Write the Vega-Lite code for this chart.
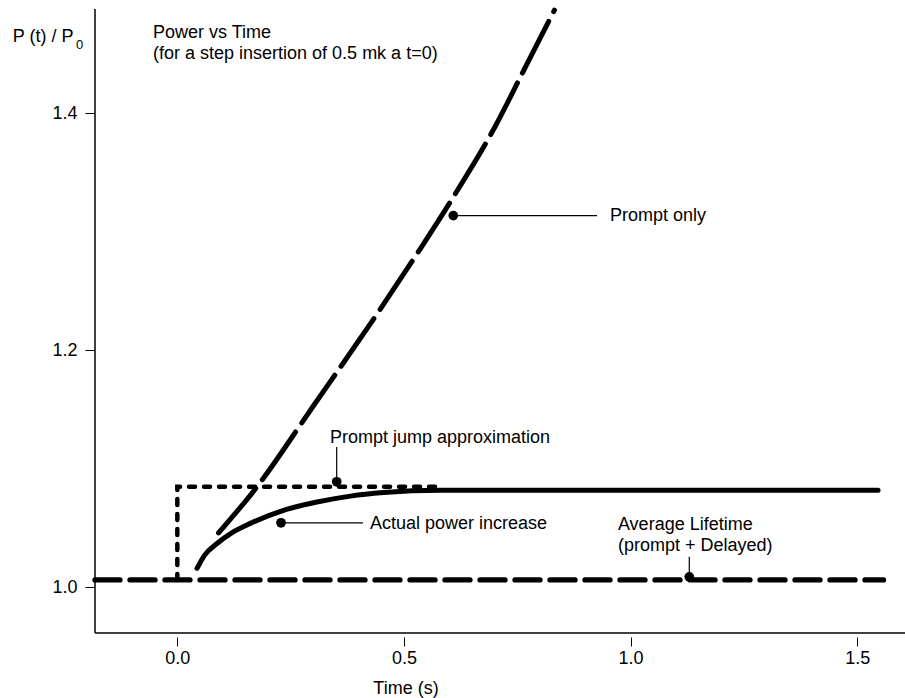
{
  "$schema": "https://vega.github.io/schema/vega-lite/v6.json",
  "width": 810,
  "height": 624,
  "autosize": {"type": "none"},
  "padding": {"left": 95, "top": 9, "right": 0, "bottom": 65},
  "background": "white",
  "config": {"view": {"stroke": null}, "font": "Liberation Sans"},
  "datasets": {
    "prompt": [
      {"t": 0.091, "p": 1.046}, {"t": 0.172, "p": 1.083}, {"t": 0.30, "p": 1.153},
      {"t": 0.45, "p": 1.236}, {"t": 0.54, "p": 1.288}, {"t": 0.61, "p": 1.330},
      {"t": 0.70, "p": 1.388}, {"t": 0.764, "p": 1.436}, {"t": 0.832, "p": 1.487}
    ],
    "actual": [
      {"t": 0.0435, "p": 1.016}, {"t": 0.06, "p": 1.027}, {"t": 0.0876, "p": 1.037},
      {"t": 0.12, "p": 1.046}, {"t": 0.161, "p": 1.054}, {"t": 0.2345, "p": 1.065},
      {"t": 0.308, "p": 1.072}, {"t": 0.382, "p": 1.077}, {"t": 0.455, "p": 1.080},
      {"t": 0.58, "p": 1.082}, {"t": 1.546, "p": 1.082}
    ],
    "jump": [
      {"t": 0, "p": 1.0063, "o": 1}, {"t": 0, "p": 1.085, "o": 2}, {"t": 0.58, "p": 1.085, "o": 3}
    ],
    "avg": [
      {"t": -0.1816, "p": 1.0063}, {"t": 1.558, "p": 1.0063}
    ],
    "dots": [
      {"t": 0.6089, "p": 1.3137}, {"t": 0.2288, "p": 1.0545},
      {"t": 0.3516, "p": 1.0891}, {"t": 1.1295, "p": 1.0089}
    ],
    "leaders": [
      {"t": 0.6089, "p": 1.3137, "t2": 0.926, "p2": 1.3137},
      {"t": 0.2288, "p": 1.0545, "t2": 0.4096, "p2": 1.0545},
      {"t": 0.3516, "p": 1.0891, "t2": 0.3516, "p2": 1.1184},
      {"t": 1.1295, "p": 1.0089, "t2": 1.1295, "p2": 1.0258}
    ],
    "labels": [
      {"t": -0.0536, "p": 1.4638, "text": "Power vs Time"},
      {"t": -0.0536, "p": 1.4462, "text": "(for a step insertion of 0.5 mk a t=0)"},
      {"t": 0.9545, "p": 1.3091, "text": "Prompt only"},
      {"t": 0.4251, "p": 1.0496, "text": "Actual power increase"},
      {"t": 0.3369, "p": 1.1220, "text": "Prompt jump approximation"},
      {"t": 0.9721, "p": 1.0488, "text": "Average Lifetime"},
      {"t": 0.9721, "p": 1.0306, "text": "(prompt + Delayed)"}
    ],
    "sub": [
      {"t": -0.2235, "p": 1.4543, "text": "0"}
    ],
    "one": [{"k": 0}]
  },
  "layer": [
    {
      "data": {"name": "avg"},
      "mark": {"type": "line", "color": "black", "strokeWidth": 5.3, "strokeDash": [25, 10], "strokeCap": "round"},
      "encoding": {
        "x": {
          "field": "t", "type": "quantitative",
          "scale": {"domain": [-0.1816, 1.6054], "nice": false, "zero": false},
          "axis": {
            "values": [0, 0.5, 1, 1.5], "format": ".1f", "domain": false, "grid": false,
            "offset": 4, "tickSize": 9, "tickColor": "black", "tickWidth": 1,
            "labelFont": "Liberation Sans", "labelFontSize": 18, "labelColor": "black", "labelPadding": 3,
            "title": "Time (s)", "titleFont": "Liberation Sans", "titleFontSize": 18,
            "titleFontWeight": "normal", "titleColor": "black",
            "titleX": 310.5, "titleY": 56, "titleBaseline": "alphabetic", "titleAlign": "center"
          }
        },
        "y": {
          "field": "p", "type": "quantitative",
          "scale": {"domain": [0.9615, 1.488], "nice": false, "zero": false},
          "axis": {
            "values": [1.0, 1.2, 1.4], "format": ".1f", "domain": false, "grid": false,
            "offset": 1, "tickSize": 9, "tickColor": "black", "tickWidth": 1,
            "labelFont": "Liberation Sans", "labelFontSize": 18, "labelColor": "black", "labelPadding": 8,
            "title": "P (t) / P", "titleFont": "Liberation Sans", "titleFontSize": 18,
            "titleFontWeight": "normal", "titleColor": "black", "titleAngle": 0,
            "titleAlign": "left", "titleBaseline": "alphabetic", "titleX": -81.7, "titleY": 32
          }
        }
      }
    },
    {
      "data": {"name": "one"},
      "mark": {"type": "rule", "color": "black", "strokeWidth": 1.5},
      "encoding": {"x": {"datum": -0.1816, "type": "quantitative"}}
    },
    {
      "data": {"name": "one"},
      "mark": {"type": "rule", "color": "black", "strokeWidth": 1.5},
      "encoding": {"y": {"datum": 0.9615, "type": "quantitative"}}
    },
    {
      "data": {"name": "jump"},
      "mark": {"type": "line", "color": "black", "strokeWidth": 4.5, "strokeDash": [6, 9], "strokeCap": "round"},
      "encoding": {
        "x": {"field": "t", "type": "quantitative"},
        "y": {"field": "p", "type": "quantitative"},
        "order": {"field": "o"}
      }
    },
    {
      "data": {"name": "actual"},
      "mark": {"type": "line", "color": "black", "strokeWidth": 5, "strokeCap": "round", "interpolate": "monotone"},
      "encoding": {
        "x": {"field": "t", "type": "quantitative"},
        "y": {"field": "p", "type": "quantitative"}
      }
    },
    {
      "data": {"name": "prompt"},
      "mark": {"type": "line", "color": "black", "strokeWidth": 5, "strokeDash": [58, 11], "strokeCap": "round", "interpolate": "monotone"},
      "encoding": {
        "x": {"field": "t", "type": "quantitative"},
        "y": {"field": "p", "type": "quantitative"}
      }
    },
    {
      "data": {"name": "leaders"},
      "mark": {"type": "rule", "color": "black", "strokeWidth": 1.2},
      "encoding": {
        "x": {"field": "t", "type": "quantitative"},
        "y": {"field": "p", "type": "quantitative"},
        "x2": {"field": "t2"},
        "y2": {"field": "p2"}
      }
    },
    {
      "data": {"name": "dots"},
      "mark": {"type": "point", "filled": true, "color": "black", "size": 95, "opacity": 1},
      "encoding": {
        "x": {"field": "t", "type": "quantitative"},
        "y": {"field": "p", "type": "quantitative"}
      }
    },
    {
      "data": {"name": "labels"},
      "mark": {"type": "text", "align": "left", "baseline": "alphabetic", "font": "Liberation Sans", "fontSize": 18, "color": "black"},
      "encoding": {
        "x": {"field": "t", "type": "quantitative"},
        "y": {"field": "p", "type": "quantitative"},
        "text": {"field": "text"}
      }
    },
    {
      "data": {"name": "sub"},
      "mark": {"type": "text", "align": "left", "baseline": "alphabetic", "font": "Liberation Sans", "fontSize": 13, "color": "black"},
      "encoding": {
        "x": {"field": "t", "type": "quantitative"},
        "y": {"field": "p", "type": "quantitative"},
        "text": {"field": "text"}
      }
    }
  ]
}
